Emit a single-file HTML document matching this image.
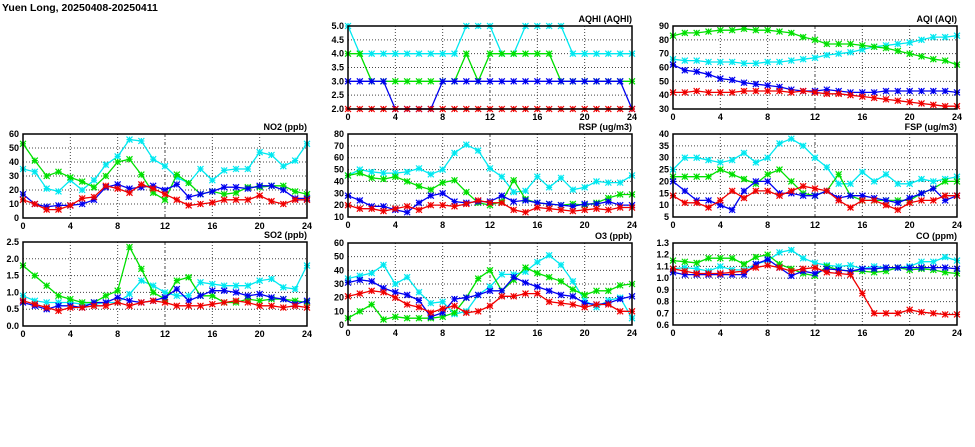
<!DOCTYPE html>
<html><head><meta charset="utf-8"><style>
html,body{margin:0;padding:0;background:#fff;width:975px;height:447px;overflow:hidden}
svg text{font-family:"Liberation Sans",sans-serif;font-weight:bold;font-size:9px;fill:#000}
</style></head><body>
<svg id="s" width="975" height="447" xmlns="http://www.w3.org/2000/svg">
<text x="2" y="11" style="font-size:10.5px">Yuen Long, 20250408-20250411</text>
</svg>
<script>
const C={c:'#00e8f0',g:'#00e000',b:'#0000f0',r:'#f00000'};
const P=[
{t:'AQHI (AQHI)',x0:348,x1:632,y0:26,y1:109,min:2,max:5,st:.5,d:1,s:{
c:[5,4,4,4,4,4,4,4,4,4,5,5,5,4,4,5,5,5,5,4,4,4,4,4,4],
g:[4,4,3,3,3,3,3,3,3,3,4,3,4,4,4,4,4,4,3,3,3,3,3,3,3],
b:[3,3,3,3,2,2,2,2,3,3,3,3,3,3,3,3,3,3,3,3,3,3,3,3,2],
r:Array(25).fill(2)}},
{t:'AQI (AQI)',x0:673,x1:957,y0:26,y1:109,min:30,max:90,st:10,d:0,s:{
g:[83,85,85,86,87,87,88,87,87,86,85,82,80,77,77,77,76,75,74,72,70,68,66,65,62],
c:[66,65,65,64,64,64,63,63,64,64,65,66,67,69,70,71,73,75,76,77,78,80,82,82,83],
b:[62,58,57,55,52,51,49,48,47,46,44,43,43,44,43,42,42,42,43,43,43,43,43,43,42],
r:[42,42,43,42,42,42,43,43,43,43,42,43,42,41,41,40,39,38,37,36,35,34,33,32,32]}},
{t:'NO2 (ppb)',x0:23,x1:307,y0:134,y1:218,min:0,max:60,st:10,d:0,s:{
c:[35,33,21,19,27,20,27,38,44,56,55,42,37,29,25,35,27,34,35,35,47,45,37,41,53],
g:[53,41,30,33,29,26,22,30,40,42,31,18,13,31,25,17,19,17,18,22,22,23,23,19,17],
b:[17,10,8,9,9,10,13,22,24,21,22,23,20,24,15,17,19,22,22,21,23,23,20,14,14],
r:[13,10,6,6,9,14,15,23,21,18,24,21,17,13,9,10,11,13,13,13,16,12,10,13,13]}},
{t:'RSP (ug/m3)',x0:348,x1:632,y0:134,y1:217,min:10,max:80,st:10,d:0,s:{
c:[45,50,48,47,47,48,51,46,50,64,71,66,51,44,31,32,44,35,43,33,35,40,39,39,45],
g:[45,47,43,42,44,40,36,33,39,41,31,22,20,23,41,25,22,21,20,21,20,22,26,29,29],
b:[28,24,19,19,16,14,22,28,30,23,22,23,23,28,23,24,22,21,20,19,21,21,23,20,20],
r:[20,17,17,15,17,19,16,20,20,19,21,24,22,22,16,14,18,17,16,15,16,17,16,18,18]}},
{t:'FSP (ug/m3)',x0:673,x1:957,y0:134,y1:217,min:5,max:40,st:5,d:0,s:{
c:[25,30,30,29,28,29,32,28,30,36,38,35,30,26,19,19,24,20,23,19,19,21,20,21,22],
g:[22,22,22,22,25,23,21,19,23,25,20,15,14,16,23,14,12,12,12,12,12,15,17,20,20],
b:[20,16,12,12,10,8,16,20,20,15,15,14,14,16,13,14,14,13,12,11,13,15,17,12,14],
r:[14,11,11,9,12,16,13,16,16,14,16,18,17,16,12,9,12,12,10,8,11,12,12,14,14]}},
{t:'SO2 (ppb)',x0:23,x1:307,y0:242,y1:326,min:0,max:2.5,st:.5,d:1,s:{
c:[.9,.75,.7,.7,.7,.65,.65,.7,.7,.95,1.35,1.2,1,.9,.9,1.3,1.25,1.2,1.2,1.2,1.35,1.4,1.15,1.1,1.8],
g:[1.8,1.5,1.2,.9,.8,.7,.7,.9,1.05,2.35,1.7,1,.8,1.35,1.45,.9,.9,.7,.7,.8,.75,.8,.8,.75,.7],
b:[.7,.6,.5,.6,.6,.55,.7,.7,.85,.75,.7,.75,.85,1.1,.75,.9,1.05,1.05,1,.9,.95,.85,.8,.65,.75],
r:[.75,.65,.55,.45,.55,.55,.6,.6,.7,.6,.7,.75,.7,.6,.6,.6,.65,.7,.75,.7,.6,.6,.55,.6,.55]}},
{t:'O3 (ppb)',x0:348,x1:632,y0:243,y1:325,min:0,max:60,st:10,d:0,s:{
c:[34,36,38,44,30,35,24,16,17,8,10,22,28,37,37,39,46,51,44,32,18,13,18,20,5],
g:[5,10,15,4,6,5,5,5,6,9,20,34,40,25,33,42,38,35,32,26,22,25,25,29,30],
b:[31,33,32,27,24,22,18,6,9,19,20,22,25,25,35,31,28,25,22,21,16,15,16,19,21],
r:[21,23,25,24,20,15,13,9,12,14,9,10,14,21,21,23,23,17,16,15,13,15,15,10,10]}},
{t:'CO (ppm)',x0:673,x1:957,y0:243,y1:325,min:.6,max:1.3,st:.1,d:1,s:{
c:[1.08,1.09,1.08,1.06,1.1,1.07,1.07,1.12,1.15,1.22,1.24,1.17,1.13,1.11,1.1,1.11,1.08,1.1,1.09,1.09,1.1,1.14,1.14,1.18,1.15],
g:[1.15,1.14,1.13,1.17,1.17,1.17,1.12,1.18,1.2,1.12,1.08,1.04,1.02,1.1,1.07,1.06,1.06,1.05,1.06,1.09,1.07,1.08,1.07,1.05,1.04],
b:[1.05,1.03,1.03,1.03,1.03,1.03,1.03,1.12,1.16,1.09,1.02,1.06,1.04,1.08,1.07,1.06,1.08,1.08,1.09,1.09,1.09,1.09,1.09,1.09,1.08],
r:[1.08,1.06,1.04,1.04,1.04,1.05,1.06,1.09,1.11,1.09,1.06,1.08,1.09,1.05,1.04,1.03,.87,.7,.7,.7,.73,.71,.7,.69,.69]}}
];
let h='';
for(const p of P){
 const X=i=>p.x0+(p.x1-p.x0)*i/24, Y=v=>p.y1-(p.y1-p.y0)*(v-p.min)/(p.max-p.min);
 const n=Math.round((p.max-p.min)/p.st);
 for(let k=0;k<=n;k++){const v=p.min+k*p.st,y=Y(v);
  if(k>0&&k<n)h+=`<line x1="${p.x0}" x2="${p.x1}" y1="${y}" y2="${y}" stroke="#444" stroke-width="1" stroke-dasharray="1,2"/>`;
  h+=`<text x="${p.x0-4}" y="${y+3}" text-anchor="end">${v.toFixed(p.d)}</text>`;}
 for(let i=0;i<=24;i+=4){const x=X(i);
  if(i>0&&i<24)h+=`<line x1="${x}" x2="${x}" y1="${p.y0}" y2="${p.y1}" stroke="#444" stroke-width="1" stroke-dasharray="${i==12?'3,2,1,2':'1,2'}"/>`;
  h+=`<text x="${x}" y="${p.y1+11}" text-anchor="middle">${i}</text>`;}
 h+=`<text x="${p.x1}" y="${p.y0-4}" text-anchor="end">${p.t}</text>`;
 for(const k of ['c','g','b','r']){const a=p.s[k];
  h+=`<polyline fill="none" stroke="${C[k]}" stroke-width="1.3" points="${a.map((v,i)=>X(i).toFixed(1)+','+Y(v).toFixed(1)).join(' ')}"/>`;
  let m='';a.forEach((v,i)=>{const x=X(i),y=Y(v);m+=`M${x-3},${y-3}L${x+3},${y+3}M${x-3},${y+3}L${x+3},${y-3}M${x-3},${y}H${x+3}M${x},${y-3}V${y+3}`;});
  h+=`<path d="${m}" stroke="${C[k]}" stroke-width="1.2" fill="none"/>`;}
 h+=`<rect x="${p.x0}" y="${p.y0}" width="${p.x1-p.x0}" height="${p.y1-p.y0}" fill="none" stroke="#000" stroke-width="1.5"/>`;
}
document.getElementById('s').insertAdjacentHTML('beforeend',h);
</script>
</body></html>
